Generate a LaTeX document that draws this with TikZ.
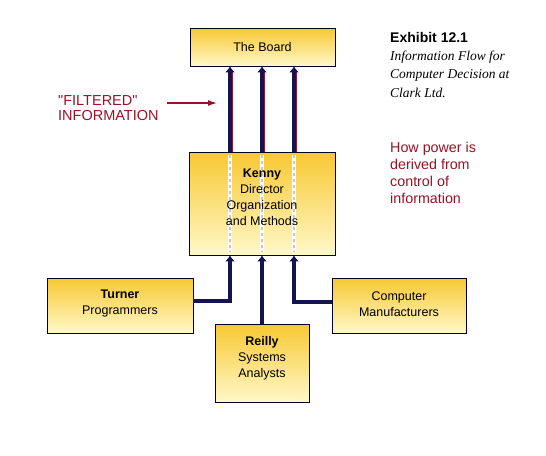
\documentclass[tikz,border=0pt]{standalone}
\usepackage{fontspec}
\setmainfont{Liberation Sans}
\newfontfamily\capserif{Liberation Serif}
\usetikzlibrary{arrows.meta}
\definecolor{navy}{RGB}{20,20,80}
\definecolor{dred}{RGB}{150,20,40}
\definecolor{gold}{RGB}{247,200,50}
\definecolor{pale}{RGB}{255,248,200}
\tikzset{
  box/.style={draw=black!85!blue, line width=0.8pt, top color=gold, bottom color=pale, inner sep=0pt},
  txt/.style={align=center, font=\fontsize{12.5}{16}\selectfont, text=black},
  flow/.style={draw=navy, line width=3.4pt, -{Latex[length=6pt,width=10pt]}},
  shade/.style={draw=dred, line width=1.2pt},
  ghost/.style={draw=white, line width=4pt},
  ghostdash/.style={draw=black!22, line width=1.2pt, dash pattern=on 3pt off 3pt},
  redtxt/.style={text=dred, align=left, anchor=north west, inner sep=0pt},
}
\begin{document}
\begin{tikzpicture}[x=1pt,y=-1pt]
\useasboundingbox[fill=white] (0,0) rectangle (546,455);
% boxes
\node[box, minimum width=145pt, minimum height=38pt] (board) at (262.5,47) {};
\node[box, minimum width=146pt, minimum height=103pt] (kenny) at (262,203.5) {};
\node[box, minimum width=146pt, minimum height=55pt] (turner) at (120,305.5) {};
\node[box, minimum width=94pt, minimum height=78pt] (reilly) at (262,363) {};
\node[box, minimum width=134pt, minimum height=55pt] (comp) at (399,305.5) {};
% ghost lines inside Kenny
\foreach \dx in {-32,0,32}{
  \draw[ghost] ([xshift=\dx pt, yshift=-3pt]kenny.north) -- ([xshift=\dx pt, yshift=3pt]kenny.south);
  \draw[ghostdash] ([xshift=\dx pt, yshift=-3pt]kenny.north) -- ([xshift=\dx pt, yshift=3pt]kenny.south);
}
% texts
\node[txt] (tboard) at (262.5,47) {The Board};
\node[txt] (tkenny) at (262,197) {\textbf{Kenny}\\Director\\Organization\\and Methods};
\node[txt] (tturner) at (120,303.5) {\textbf{Turner}\\Programmers};
\node[txt] (treilly) at (262,358) {\textbf{Reilly}\\Systems\\Analysts};
\node[txt] (tcomp) at (399,304) {Computer\\Manufacturers};
% upper arrows with red shadow
\foreach \dx in {-32,0,32}{
  \draw[shade] ([xshift=\dx pt+2.2pt]kenny.north) -- ([xshift=\dx pt+2.2pt, yshift=-6pt]kenny.north |- board.south);
  \draw[flow] ([xshift=\dx pt]kenny.north) -- ([xshift=\dx pt]kenny.north |- board.south);
}
% lower connectors
\draw[flow] ([yshift=4.5pt]turner.east) -| ([xshift=-32pt]kenny.south);
\draw[flow] (reilly.north) -- (kenny.south);
\draw[flow] ([yshift=3.5pt]comp.west) -| ([xshift=32pt]kenny.south);
% exhibit caption
\node[anchor=north west, inner sep=0pt, font=\bfseries\fontsize{14}{16}\selectfont] (exh) at (390,32) {Exhibit 12.1};
\node[anchor=north west, inner sep=0pt, align=left, font=\capserif\itshape\fontsize{13.5}{18.5}\selectfont] (cap) at (390,50.5) {Information Flow for\\Computer Decision at\\Clark Ltd.};
\node[redtxt, font=\fontsize{14.3}{17}\selectfont] (power) at (390,141.5) {How power is\\derived from\\control of\\information};
\node[redtxt, font=\fontsize{14.5}{15.5}\selectfont] (filt) at (58,95) {\textquotedbl FILTERED\textquotedbl\\INFORMATION};
\coordinate (ftail) at (167,103);
\coordinate (ftip) at (217,103);
\draw[dred, line width=1.2pt, -{Latex[length=9pt,width=6pt]}] (ftail) -- (ftip);
\end{tikzpicture}
\end{document}
